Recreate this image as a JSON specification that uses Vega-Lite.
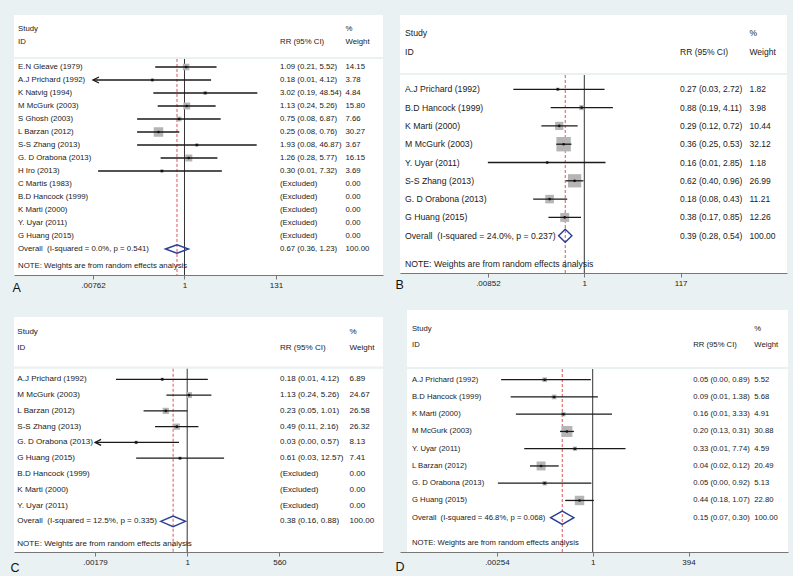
{
"$schema": "https://vega.github.io/schema/vega-lite/v6.json",
"background": "#e9f1f3",
"padding": {"left": 10, "top": 15, "right": 5, "bottom": 2},
"columns": 2,
"spacing": {"row": 35, "column": 17},
"bounds": "flush",
"resolve": {"scale": {"size": "independent"}},
"config": {"view": {"stroke": null, "fill": null}, "font": "Liberation Sans",
  "axis": {"grid": false, "domainColor": "#777777", "tickColor": "#777777", "tickSize": 4, "labelFontSize": 8, "labelColor": "#222222", "labelPadding": 2, "labelFlush": false, "labelOverlap": false, "titleAnchor": "start", "titleAlign": "left", "titleBaseline": "middle", "titleFontSize": 12.5, "titleFontWeight": "normal", "titleColor": "#111111"}},
"datasets": {
"A": [
{"row":-2.92,"kind":"header","study":"Study","wt":"%"},
{"row":-1.9,"kind":"header","study":"ID","ci":"RR (95% CI)","wt":"Weight"},
{"row":0,"kind":"study","study":"E.N Gleave (1979)","est":1.09,"lo":0.21,"hi":5.52,"w":14.15,"ci":"1.09 (0.21, 5.52)","wt":"14.15"},
{"row":1,"kind":"study","study":"A.J Prichard (1992)","est":0.18,"lo":0.00762,"hi":4.12,"w":3.78,"ci":"0.18 (0.01, 4.12)","wt":"3.78","arrow":true},
{"row":2,"kind":"study","study":"K Natvig (1994)","est":3.02,"lo":0.19,"hi":48.54,"w":4.84,"ci":"3.02 (0.19, 48.54)","wt":"4.84"},
{"row":3,"kind":"study","study":"M McGurk (2003)","est":1.13,"lo":0.24,"hi":5.26,"w":15.8,"ci":"1.13 (0.24, 5.26)","wt":"15.80"},
{"row":4,"kind":"study","study":"S Ghosh (2003)","est":0.75,"lo":0.08,"hi":6.87,"w":7.66,"ci":"0.75 (0.08, 6.87)","wt":"7.66"},
{"row":5,"kind":"study","study":"L Barzan (2012)","est":0.25,"lo":0.08,"hi":0.76,"w":30.27,"ci":"0.25 (0.08, 0.76)","wt":"30.27"},
{"row":6,"kind":"study","study":"S-S Zhang (2013)","est":1.93,"lo":0.08,"hi":46.87,"w":3.67,"ci":"1.93 (0.08, 46.87)","wt":"3.67"},
{"row":7,"kind":"study","study":"G. D Orabona (2013)","est":1.26,"lo":0.28,"hi":5.77,"w":16.15,"ci":"1.26 (0.28, 5.77)","wt":"16.15"},
{"row":8,"kind":"study","study":"H Iro (2013)","est":0.3,"lo":0.01,"hi":7.32,"w":3.69,"ci":"0.30 (0.01, 7.32)","wt":"3.69"},
{"row":9,"kind":"excluded","study":"C Martis (1983)","ci":"(Excluded)","wt":"0.00"},
{"row":10,"kind":"excluded","study":"B.D Hancock (1999)","ci":"(Excluded)","wt":"0.00"},
{"row":11,"kind":"excluded","study":"K Marti (2000)","ci":"(Excluded)","wt":"0.00"},
{"row":12,"kind":"excluded","study":"Y. Uyar (2011)","ci":"(Excluded)","wt":"0.00"},
{"row":13,"kind":"excluded","study":"G Huang (2015)","ci":"(Excluded)","wt":"0.00"},
{"row":14,"kind":"overall","study":"Overall \u00a0(I-squared = 0.0%, p = 0.541)","est":0.67,"lo":0.36,"hi":1.23,"ci":"0.67 (0.36, 1.23)","wt":"100.00"},
{"row":15.3,"kind":"note","study":"NOTE: Weights are from random effects analysis"}
],
"B": [
{"row":-3.06,"kind":"header","study":"Study","wt":"%"},
{"row":-2.05,"kind":"header","study":"ID","ci":"RR (95% CI)","wt":"Weight"},
{"row":0,"kind":"study","study":"A.J Prichard (1992)","est":0.27,"lo":0.03,"hi":2.72,"w":1.82,"ci":"0.27 (0.03, 2.72)","wt":"1.82"},
{"row":1,"kind":"study","study":"B.D Hancock (1999)","est":0.88,"lo":0.19,"hi":4.11,"w":3.98,"ci":"0.88 (0.19, 4.11)","wt":"3.98"},
{"row":2,"kind":"study","study":"K Marti (2000)","est":0.29,"lo":0.12,"hi":0.72,"w":10.44,"ci":"0.29 (0.12, 0.72)","wt":"10.44"},
{"row":3,"kind":"study","study":"M McGurk (2003)","est":0.36,"lo":0.25,"hi":0.53,"w":32.12,"ci":"0.36 (0.25, 0.53)","wt":"32.12"},
{"row":4,"kind":"study","study":"Y. Uyar (2011)","est":0.16,"lo":0.00852,"hi":2.85,"w":1.18,"ci":"0.16 (0.01, 2.85)","wt":"1.18"},
{"row":5,"kind":"study","study":"S-S Zhang (2013)","est":0.62,"lo":0.4,"hi":0.96,"w":26.99,"ci":"0.62 (0.40, 0.96)","wt":"26.99"},
{"row":6,"kind":"study","study":"G. D Orabona (2013)","est":0.18,"lo":0.08,"hi":0.43,"w":11.21,"ci":"0.18 (0.08, 0.43)","wt":"11.21"},
{"row":7,"kind":"study","study":"G Huang (2015)","est":0.38,"lo":0.17,"hi":0.85,"w":12.26,"ci":"0.38 (0.17, 0.85)","wt":"12.26"},
{"row":8,"kind":"overall","study":"Overall \u00a0(I-squared = 24.0%, p = 0.237)","est":0.39,"lo":0.28,"hi":0.54,"ci":"0.39 (0.28, 0.54)","wt":"100.00"},
{"row":9.55,"kind":"note","study":"NOTE: Weights are from random effects analysis"}
],
"C": [
{"row":-2.98,"kind":"header","study":"Study","wt":"%"},
{"row":-1.98,"kind":"header","study":"ID","ci":"RR (95% CI)","wt":"Weight"},
{"row":0,"kind":"study","study":"A.J Prichard (1992)","est":0.18,"lo":0.0075,"hi":4.12,"w":6.89,"ci":"0.18 (0.01, 4.12)","wt":"6.89"},
{"row":1,"kind":"study","study":"M McGurk (2003)","est":1.13,"lo":0.24,"hi":5.26,"w":24.67,"ci":"1.13 (0.24, 5.26)","wt":"24.67"},
{"row":2,"kind":"study","study":"L Barzan (2012)","est":0.23,"lo":0.05,"hi":1.01,"w":26.58,"ci":"0.23 (0.05, 1.01)","wt":"26.58"},
{"row":3,"kind":"study","study":"S-S Zhang (2013)","est":0.49,"lo":0.11,"hi":2.16,"w":26.32,"ci":"0.49 (0.11, 2.16)","wt":"26.32"},
{"row":4,"kind":"study","study":"G. D Orabona (2013)","est":0.03,"lo":0.00179,"hi":0.57,"w":8.13,"ci":"0.03 (0.00, 0.57)","wt":"8.13","arrow":true},
{"row":5,"kind":"study","study":"G Huang (2015)","est":0.61,"lo":0.03,"hi":12.57,"w":7.41,"ci":"0.61 (0.03, 12.57)","wt":"7.41"},
{"row":6,"kind":"excluded","study":"B.D Hancock (1999)","ci":"(Excluded)","wt":"0.00"},
{"row":7,"kind":"excluded","study":"K Marti (2000)","ci":"(Excluded)","wt":"0.00"},
{"row":8,"kind":"excluded","study":"Y. Uyar (2011)","ci":"(Excluded)","wt":"0.00"},
{"row":9,"kind":"overall","study":"Overall \u00a0(I-squared = 12.5%, p = 0.335)","est":0.38,"lo":0.16,"hi":0.88,"ci":"0.38 (0.16, 0.88)","wt":"100.00"},
{"row":10.46,"kind":"note","study":"NOTE: Weights are from random effects analysis"}
],
"D": [
{"row":-2.96,"kind":"header","study":"Study","wt":"%"},
{"row":-1.99,"kind":"header","study":"ID","ci":"RR (95% CI)","wt":"Weight"},
{"row":0,"kind":"study","study":"A.J Prichard (1992)","est":0.05,"lo":0.0033,"hi":0.89,"w":5.52,"ci":"0.05 (0.00, 0.89)","wt":"5.52"},
{"row":1,"kind":"study","study":"B.D Hancock (1999)","est":0.09,"lo":0.006,"hi":1.38,"w":5.68,"ci":"0.09 (0.01, 1.38)","wt":"5.68"},
{"row":2,"kind":"study","study":"K Marti (2000)","est":0.16,"lo":0.0083,"hi":3.33,"w":4.91,"ci":"0.16 (0.01, 3.33)","wt":"4.91"},
{"row":3,"kind":"study","study":"M McGurk (2003)","est":0.2,"lo":0.13,"hi":0.31,"w":30.88,"ci":"0.20 (0.13, 0.31)","wt":"30.88"},
{"row":4,"kind":"study","study":"Y. Uyar (2011)","est":0.33,"lo":0.014,"hi":7.74,"w":4.59,"ci":"0.33 (0.01, 7.74)","wt":"4.59"},
{"row":5,"kind":"study","study":"L Barzan (2012)","est":0.04,"lo":0.02,"hi":0.12,"w":20.49,"ci":"0.04 (0.02, 0.12)","wt":"20.49"},
{"row":6,"kind":"study","study":"G. D Orabona (2013)","est":0.05,"lo":0.0027,"hi":0.92,"w":5.13,"ci":"0.05 (0.00, 0.92)","wt":"5.13"},
{"row":7,"kind":"study","study":"G Huang (2015)","est":0.44,"lo":0.18,"hi":1.07,"w":22.8,"ci":"0.44 (0.18, 1.07)","wt":"22.80"},
{"row":8,"kind":"overall","study":"Overall \u00a0(I-squared = 46.8%, p = 0.068)","est":0.15,"lo":0.07,"hi":0.3,"ci":"0.15 (0.07, 0.30)","wt":"100.00"},
{"row":9.49,"kind":"note","study":"NOTE: Weights are from random effects analysis"}
]
},
"concat": [
{
"width": 369, "height": 260,
"data": {"name": "A"},
"layer": [
{"data":{"values":[{}]},"mark":{"type":"rect","fill":"#ffffff"},"encoding":{"x":{"datum":0.00011303,"type":"quantitative","scale":{"type":"log","domain":[0.00011303,39355],"nice":false}},"x2":{"datum":39355},"y":{"datum":-4,"type":"quantitative","scale":{"domain":[-4,16],"reverse":true,"nice":false,"zero":false},"axis":null},"y2":{"datum":-0.77}}},
{"data":{"values":[{}]},"mark":{"type":"rect","fill":"#ffffff"},"encoding":{"x":{"datum":0.00011303,"type":"quantitative","scale":{"type":"log","domain":[0.00011303,39355],"nice":false}},"x2":{"datum":39355},"y":{"datum":-0.62,"type":"quantitative","scale":{"domain":[-4,16],"reverse":true,"nice":false,"zero":false},"axis":null},"y2":{"datum":16}}},
{"data":{"values":[{}]},"mark":{"type":"rule","color":"#333333","strokeWidth":1},"encoding":{"x":{"datum":1,"type":"quantitative","scale":{"type":"log","domain":[0.00011303,39355],"nice":false},"axis":{"values":[0.00762,1,131],"labelExpr":"datum.value < 0.5 ? '.00762' : (datum.value > 2 ? '131' : '1')","title":"A","titleX":-2,"titleY":12}},"y":{"datum":-0.62,"type":"quantitative","scale":{"domain":[-4,16],"reverse":true,"nice":false,"zero":false},"axis":null},"y2":{"datum":16}}},
{"transform":[{"filter":"datum.kind == 'overall'"}],"mark":{"type":"rule","color":"#dd5555","strokeWidth":1,"strokeDash":[3,2]},"encoding":{"x":{"field":"est","type":"quantitative","scale":{"type":"log","domain":[0.00011303,39355],"nice":false}},"y":{"datum":-0.62,"type":"quantitative","scale":{"domain":[-4,16],"reverse":true,"nice":false,"zero":false},"axis":null},"y2":{"datum":16}}},
{"transform":[{"filter":"datum.kind == 'study'"}],"mark":{"type":"point","shape":"square","filled":true,"color":"#b5b5b5","opacity":1},"encoding":{"x":{"field":"est","type":"quantitative","scale":{"type":"log","domain":[0.00011303,39355],"nice":false}},"y":{"field":"row","type":"quantitative","scale":{"domain":[-4,16],"reverse":true,"nice":false,"zero":false},"axis":null},"size":{"field":"w","type":"quantitative","scale":{"type":"linear","domain":[0,100],"range":[0,300]},"legend":null}}},
{"transform":[{"filter":"datum.kind == 'study'"}],"mark":{"type":"rule","color":"#1a1a1a","strokeWidth":1.3},"encoding":{"x":{"field":"lo","type":"quantitative","scale":{"type":"log","domain":[0.00011303,39355],"nice":false}},"x2":{"field":"hi"},"y":{"field":"row","type":"quantitative","scale":{"domain":[-4,16],"reverse":true,"nice":false,"zero":false},"axis":null}}},
{"transform":[{"filter":"datum.kind == 'study'"}],"mark":{"type":"point","shape":"circle","filled":true,"color":"#111111","size":7,"opacity":1},"encoding":{"x":{"field":"est","type":"quantitative","scale":{"type":"log","domain":[0.00011303,39355],"nice":false}},"y":{"field":"row","type":"quantitative","scale":{"domain":[-4,16],"reverse":true,"nice":false,"zero":false},"axis":null}}},
{"transform":[{"filter":"datum.arrow == true"}],"mark":{"type":"point","shape":"M3,-1.5L0,0L3,1.5","filled":false,"color":"#1a1a1a","strokeWidth":1.3,"size":16,"opacity":1},"encoding":{"x":{"field":"lo","type":"quantitative","scale":{"type":"log","domain":[0.00011303,39355],"nice":false}},"y":{"field":"row","type":"quantitative","scale":{"domain":[-4,16],"reverse":true,"nice":false,"zero":false},"axis":null}}},
{"transform":[{"filter":"datum.kind == 'overall'"}],"mark":{"type":"point","shape":"M-1,0L0,-0.36L1,0L0,0.36Z","filled":false,"color":"#2b3f94","strokeWidth":1.4,"size":531,"opacity":1},"encoding":{"x":{"field":"est","type":"quantitative","scale":{"type":"log","domain":[0.00011303,39355],"nice":false}},"y":{"field":"row","type":"quantitative","scale":{"domain":[-4,16],"reverse":true,"nice":false,"zero":false},"axis":null}}},
{"mark":{"type":"text","align":"left","baseline":"middle","fontSize":7.8,"color":"#1a1a1a"},"encoding":{"x":{"datum":0.00014,"type":"quantitative","scale":{"type":"log","domain":[0.00011303,39355],"nice":false}},"y":{"field":"row","type":"quantitative","scale":{"domain":[-4,16],"reverse":true,"nice":false,"zero":false},"axis":null},"text":{"field":"study"}}},
{"transform":[{"filter":"isValid(datum.ci)"}],"mark":{"type":"text","align":"left","baseline":"middle","fontSize":7.8,"color":"#1a1a1a"},"encoding":{"x":{"datum":162.4,"type":"quantitative","scale":{"type":"log","domain":[0.00011303,39355],"nice":false}},"y":{"field":"row","type":"quantitative","scale":{"domain":[-4,16],"reverse":true,"nice":false,"zero":false},"axis":null},"text":{"field":"ci"}}},
{"transform":[{"filter":"isValid(datum.wt)"}],"mark":{"type":"text","align":"left","baseline":"middle","fontSize":7.8,"color":"#1a1a1a"},"encoding":{"x":{"datum":5333,"type":"quantitative","scale":{"type":"log","domain":[0.00011303,39355],"nice":false}},"y":{"field":"row","type":"quantitative","scale":{"domain":[-4,16],"reverse":true,"nice":false,"zero":false},"axis":null},"text":{"field":"wt"}}}
]
},
{
"width": 387, "height": 258,
"data": {"name": "B"},
"layer": [
{"data":{"values":[{}]},"mark":{"type":"rect","fill":"#ffffff"},"encoding":{"x":{"datum":0.0001109,"type":"quantitative","scale":{"type":"log","domain":[0.0001109,22376],"nice":false}},"x2":{"datum":22376},"y":{"datum":-4.06,"type":"quantitative","scale":{"domain":[-4.06,10.038],"reverse":true,"nice":false,"zero":false},"axis":null},"y2":{"datum":-0.89}}},
{"data":{"values":[{}]},"mark":{"type":"rect","fill":"#ffffff"},"encoding":{"x":{"datum":0.0001109,"type":"quantitative","scale":{"type":"log","domain":[0.0001109,22376],"nice":false}},"x2":{"datum":22376},"y":{"datum":-0.78,"type":"quantitative","scale":{"domain":[-4.06,10.038],"reverse":true,"nice":false,"zero":false},"axis":null},"y2":{"datum":10.038}}},
{"data":{"values":[{}]},"mark":{"type":"rule","color":"#333333","strokeWidth":1},"encoding":{"x":{"datum":1,"type":"quantitative","scale":{"type":"log","domain":[0.0001109,22376],"nice":false},"axis":{"values":[0.00852,1,117],"labelExpr":"datum.value < 0.5 ? '.00852' : (datum.value > 2 ? '117' : '1')","title":"B","titleX":-5,"titleY":11}},"y":{"datum":-0.78,"type":"quantitative","scale":{"domain":[-4.06,10.038],"reverse":true,"nice":false,"zero":false},"axis":null},"y2":{"datum":10.038}}},
{"transform":[{"filter":"datum.kind == 'overall'"}],"mark":{"type":"rule","color":"#dd5555","strokeWidth":1,"strokeDash":[3,2]},"encoding":{"x":{"field":"est","type":"quantitative","scale":{"type":"log","domain":[0.0001109,22376],"nice":false}},"y":{"datum":-0.78,"type":"quantitative","scale":{"domain":[-4.06,10.038],"reverse":true,"nice":false,"zero":false},"axis":null},"y2":{"datum":10.038}}},
{"transform":[{"filter":"datum.kind == 'study'"}],"mark":{"type":"point","shape":"square","filled":true,"color":"#b5b5b5","opacity":1},"encoding":{"x":{"field":"est","type":"quantitative","scale":{"type":"log","domain":[0.0001109,22376],"nice":false}},"y":{"field":"row","type":"quantitative","scale":{"domain":[-4.06,10.038],"reverse":true,"nice":false,"zero":false},"axis":null},"size":{"field":"w","type":"quantitative","scale":{"type":"linear","domain":[0,100],"range":[0,650]},"legend":null}}},
{"transform":[{"filter":"datum.kind == 'study'"}],"mark":{"type":"rule","color":"#1a1a1a","strokeWidth":1.3},"encoding":{"x":{"field":"lo","type":"quantitative","scale":{"type":"log","domain":[0.0001109,22376],"nice":false}},"x2":{"field":"hi"},"y":{"field":"row","type":"quantitative","scale":{"domain":[-4.06,10.038],"reverse":true,"nice":false,"zero":false},"axis":null}}},
{"transform":[{"filter":"datum.kind == 'study'"}],"mark":{"type":"point","shape":"circle","filled":true,"color":"#111111","size":7,"opacity":1},"encoding":{"x":{"field":"est","type":"quantitative","scale":{"type":"log","domain":[0.0001109,22376],"nice":false}},"y":{"field":"row","type":"quantitative","scale":{"domain":[-4.06,10.038],"reverse":true,"nice":false,"zero":false},"axis":null}}},
{"transform":[{"filter":"datum.kind == 'overall'"}],"mark":{"type":"point","shape":"M-1,0L0,-0.98L1,0L0,0.98Z","filled":false,"color":"#2b3f94","strokeWidth":1.4,"size":177,"opacity":1},"encoding":{"x":{"field":"est","type":"quantitative","scale":{"type":"log","domain":[0.0001109,22376],"nice":false}},"y":{"field":"row","type":"quantitative","scale":{"domain":[-4.06,10.038],"reverse":true,"nice":false,"zero":false},"axis":null}}},
{"mark":{"type":"text","align":"left","baseline":"middle","fontSize":8.7,"color":"#1a1a1a"},"encoding":{"x":{"datum":0.0001419,"type":"quantitative","scale":{"type":"log","domain":[0.0001109,22376],"nice":false}},"y":{"field":"row","type":"quantitative","scale":{"domain":[-4.06,10.038],"reverse":true,"nice":false,"zero":false},"axis":null},"text":{"field":"study"}}},
{"transform":[{"filter":"isValid(datum.ci)"}],"mark":{"type":"text","align":"left","baseline":"middle","fontSize":8.5,"color":"#1a1a1a"},"encoding":{"x":{"datum":113.1,"type":"quantitative","scale":{"type":"log","domain":[0.0001109,22376],"nice":false}},"y":{"field":"row","type":"quantitative","scale":{"domain":[-4.06,10.038],"reverse":true,"nice":false,"zero":false},"axis":null},"text":{"field":"ci"}}},
{"transform":[{"filter":"isValid(datum.wt)"}],"mark":{"type":"text","align":"left","baseline":"middle","fontSize":8.5,"color":"#1a1a1a"},"encoding":{"x":{"datum":3508,"type":"quantitative","scale":{"type":"log","domain":[0.0001109,22376],"nice":false}},"y":{"field":"row","type":"quantitative","scale":{"domain":[-4.06,10.038],"reverse":true,"nice":false,"zero":false},"axis":null},"text":{"field":"wt"}}}
]
},
{
"width": 369, "height": 242,
"data": {"name": "C"},
"layer": [
{"data":{"values":[{}]},"mark":{"type":"rect","fill":"#ffffff"},"encoding":{"x":{"datum":0.000006831,"type":"quantitative","scale":{"type":"log","domain":[0.000006831,690950],"nice":false}},"x2":{"datum":690950},"y":{"datum":-3.95,"type":"quantitative","scale":{"domain":[-4.392,10.944],"reverse":true,"nice":false,"zero":false},"axis":null},"y2":{"datum":-0.81}}},
{"data":{"values":[{}]},"mark":{"type":"rect","fill":"#ffffff"},"encoding":{"x":{"datum":0.000006831,"type":"quantitative","scale":{"type":"log","domain":[0.000006831,690950],"nice":false}},"x2":{"datum":690950},"y":{"datum":-0.67,"type":"quantitative","scale":{"domain":[-4.392,10.944],"reverse":true,"nice":false,"zero":false},"axis":null},"y2":{"datum":10.944}}},
{"data":{"values":[{}]},"mark":{"type":"rule","color":"#333333","strokeWidth":1},"encoding":{"x":{"datum":1,"type":"quantitative","scale":{"type":"log","domain":[0.000006831,690950],"nice":false},"axis":{"values":[0.00179,1,560],"labelExpr":"datum.value < 0.5 ? '.00179' : (datum.value > 2 ? '560' : '1')","title":"C","titleX":-4,"titleY":15}},"y":{"datum":-0.67,"type":"quantitative","scale":{"domain":[-4.392,10.944],"reverse":true,"nice":false,"zero":false},"axis":null},"y2":{"datum":10.944}}},
{"transform":[{"filter":"datum.kind == 'overall'"}],"mark":{"type":"rule","color":"#dd5555","strokeWidth":1,"strokeDash":[3,2]},"encoding":{"x":{"field":"est","type":"quantitative","scale":{"type":"log","domain":[0.000006831,690950],"nice":false}},"y":{"datum":-0.67,"type":"quantitative","scale":{"domain":[-4.392,10.944],"reverse":true,"nice":false,"zero":false},"axis":null},"y2":{"datum":10.944}}},
{"transform":[{"filter":"datum.kind == 'study'"}],"mark":{"type":"point","shape":"square","filled":true,"color":"#b5b5b5","opacity":1},"encoding":{"x":{"field":"est","type":"quantitative","scale":{"type":"log","domain":[0.000006831,690950],"nice":false}},"y":{"field":"row","type":"quantitative","scale":{"domain":[-4.392,10.944],"reverse":true,"nice":false,"zero":false},"axis":null},"size":{"field":"w","type":"quantitative","scale":{"type":"linear","domain":[0,100],"range":[0,145]},"legend":null}}},
{"transform":[{"filter":"datum.kind == 'study'"}],"mark":{"type":"rule","color":"#1a1a1a","strokeWidth":1.3},"encoding":{"x":{"field":"lo","type":"quantitative","scale":{"type":"log","domain":[0.000006831,690950],"nice":false}},"x2":{"field":"hi"},"y":{"field":"row","type":"quantitative","scale":{"domain":[-4.392,10.944],"reverse":true,"nice":false,"zero":false},"axis":null}}},
{"transform":[{"filter":"datum.kind == 'study'"}],"mark":{"type":"point","shape":"circle","filled":true,"color":"#111111","size":7,"opacity":1},"encoding":{"x":{"field":"est","type":"quantitative","scale":{"type":"log","domain":[0.000006831,690950],"nice":false}},"y":{"field":"row","type":"quantitative","scale":{"domain":[-4.392,10.944],"reverse":true,"nice":false,"zero":false},"axis":null}}},
{"transform":[{"filter":"datum.arrow == true"}],"mark":{"type":"point","shape":"M3,-1.5L0,0L3,1.5","filled":false,"color":"#1a1a1a","strokeWidth":1.3,"size":16,"opacity":1},"encoding":{"x":{"field":"lo","type":"quantitative","scale":{"type":"log","domain":[0.000006831,690950],"nice":false}},"y":{"field":"row","type":"quantitative","scale":{"domain":[-4.392,10.944],"reverse":true,"nice":false,"zero":false},"axis":null}}},
{"transform":[{"filter":"datum.kind == 'overall'"}],"mark":{"type":"point","shape":"M-1,0L0,-0.43L1,0L0,0.43Z","filled":false,"color":"#2b3f94","strokeWidth":1.4,"size":617,"opacity":1},"encoding":{"x":{"field":"est","type":"quantitative","scale":{"type":"log","domain":[0.000006831,690950],"nice":false}},"y":{"field":"row","type":"quantitative","scale":{"domain":[-4.392,10.944],"reverse":true,"nice":false,"zero":false},"axis":null}}},
{"mark":{"type":"text","align":"left","baseline":"middle","fontSize":8.05,"color":"#1a1a1a"},"encoding":{"x":{"datum":0.00000857,"type":"quantitative","scale":{"type":"log","domain":[0.000006831,690950],"nice":false}},"y":{"field":"row","type":"quantitative","scale":{"domain":[-4.392,10.944],"reverse":true,"nice":false,"zero":false},"axis":null},"text":{"field":"study"}}},
{"transform":[{"filter":"isValid(datum.ci)"}],"mark":{"type":"text","align":"left","baseline":"middle","fontSize":8.05,"color":"#1a1a1a"},"encoding":{"x":{"datum":585.9,"type":"quantitative","scale":{"type":"log","domain":[0.000006831,690950],"nice":false}},"y":{"field":"row","type":"quantitative","scale":{"domain":[-4.392,10.944],"reverse":true,"nice":false,"zero":false},"axis":null},"text":{"field":"ci"}}},
{"transform":[{"filter":"isValid(datum.wt)"}],"mark":{"type":"text","align":"left","baseline":"middle","fontSize":8.05,"color":"#1a1a1a"},"encoding":{"x":{"datum":69260,"type":"quantitative","scale":{"type":"log","domain":[0.000006831,690950],"nice":false}},"y":{"field":"row","type":"quantitative","scale":{"domain":[-4.392,10.944],"reverse":true,"nice":false,"zero":false},"axis":null},"text":{"field":"wt"}}}
]
},
{
"width": 388, "height": 242,
"data": {"name": "D"},
"layer": [
{"data":{"values":[{}]},"mark":{"type":"rect","fill":"#ffffff"},"encoding":{"x":{"datum":0.000009337,"type":"quantitative","scale":{"type":"log","domain":[0.000006034,194940],"nice":false}},"x2":{"datum":194940},"y":{"datum":-4.041,"type":"quantitative","scale":{"domain":[-4.041,9.988],"reverse":true,"nice":false,"zero":false},"axis":null},"y2":{"datum":-0.74}}},
{"data":{"values":[{}]},"mark":{"type":"rect","fill":"#ffffff"},"encoding":{"x":{"datum":0.000009337,"type":"quantitative","scale":{"type":"log","domain":[0.000006034,194940],"nice":false}},"x2":{"datum":194940},"y":{"datum":-0.62,"type":"quantitative","scale":{"domain":[-4.041,9.988],"reverse":true,"nice":false,"zero":false},"axis":null},"y2":{"datum":9.988}}},
{"data":{"values":[{}]},"mark":{"type":"rule","color":"#333333","strokeWidth":1},"encoding":{"x":{"datum":1,"type":"quantitative","scale":{"type":"log","domain":[0.000006034,194940],"nice":false},"axis":{"values":[0.00254,1,394],"labelExpr":"datum.value < 0.5 ? '.00254' : (datum.value > 2 ? '394' : '1')","title":"D","titleX":-5,"titleY":14}},"y":{"datum":-0.62,"type":"quantitative","scale":{"domain":[-4.041,9.988],"reverse":true,"nice":false,"zero":false},"axis":null},"y2":{"datum":9.988}}},
{"transform":[{"filter":"datum.kind == 'overall'"}],"mark":{"type":"rule","color":"#dd5555","strokeWidth":1,"strokeDash":[3,2]},"encoding":{"x":{"field":"est","type":"quantitative","scale":{"type":"log","domain":[0.000006034,194940],"nice":false}},"y":{"datum":-0.62,"type":"quantitative","scale":{"domain":[-4.041,9.988],"reverse":true,"nice":false,"zero":false},"axis":null},"y2":{"datum":9.988}}},
{"transform":[{"filter":"datum.kind == 'study'"}],"mark":{"type":"point","shape":"square","filled":true,"color":"#b5b5b5","opacity":1},"encoding":{"x":{"field":"est","type":"quantitative","scale":{"type":"log","domain":[0.000006034,194940],"nice":false}},"y":{"field":"row","type":"quantitative","scale":{"domain":[-4.041,9.988],"reverse":true,"nice":false,"zero":false},"axis":null},"size":{"field":"w","type":"quantitative","scale":{"type":"linear","domain":[0,100],"range":[0,390]},"legend":null}}},
{"transform":[{"filter":"datum.kind == 'study'"}],"mark":{"type":"rule","color":"#1a1a1a","strokeWidth":1.3},"encoding":{"x":{"field":"lo","type":"quantitative","scale":{"type":"log","domain":[0.000006034,194940],"nice":false}},"x2":{"field":"hi"},"y":{"field":"row","type":"quantitative","scale":{"domain":[-4.041,9.988],"reverse":true,"nice":false,"zero":false},"axis":null}}},
{"transform":[{"filter":"datum.kind == 'study'"}],"mark":{"type":"point","shape":"circle","filled":true,"color":"#111111","size":7,"opacity":1},"encoding":{"x":{"field":"est","type":"quantitative","scale":{"type":"log","domain":[0.000006034,194940],"nice":false}},"y":{"field":"row","type":"quantitative","scale":{"domain":[-4.041,9.988],"reverse":true,"nice":false,"zero":false},"axis":null}}},
{"transform":[{"filter":"datum.kind == 'overall'"}],"mark":{"type":"point","shape":"M-1,0L0,-0.57L1,0L0,0.57Z","filled":false,"color":"#2b3f94","strokeWidth":1.4,"size":544,"opacity":1},"encoding":{"x":{"field":"est","type":"quantitative","scale":{"type":"log","domain":[0.000006034,194940],"nice":false}},"y":{"field":"row","type":"quantitative","scale":{"domain":[-4.041,9.988],"reverse":true,"nice":false,"zero":false},"axis":null}}},
{"mark":{"type":"text","align":"left","baseline":"middle","fontSize":7.7,"color":"#1a1a1a"},"encoding":{"x":{"datum":0.00001275,"type":"quantitative","scale":{"type":"log","domain":[0.000006034,194940],"nice":false}},"y":{"field":"row","type":"quantitative","scale":{"domain":[-4.041,9.988],"reverse":true,"nice":false,"zero":false},"axis":null},"text":{"field":"study"}}},
{"transform":[{"filter":"isValid(datum.ci)"}],"mark":{"type":"text","align":"left","baseline":"middle","fontSize":7.7,"color":"#1a1a1a"},"encoding":{"x":{"datum":530.7,"type":"quantitative","scale":{"type":"log","domain":[0.000006034,194940],"nice":false}},"y":{"field":"row","type":"quantitative","scale":{"domain":[-4.041,9.988],"reverse":true,"nice":false,"zero":false},"axis":null},"text":{"field":"ci"}}},
{"transform":[{"filter":"isValid(datum.wt)"}],"mark":{"type":"text","align":"left","baseline":"middle","fontSize":7.7,"color":"#1a1a1a"},"encoding":{"x":{"datum":23820,"type":"quantitative","scale":{"type":"log","domain":[0.000006034,194940],"nice":false}},"y":{"field":"row","type":"quantitative","scale":{"domain":[-4.041,9.988],"reverse":true,"nice":false,"zero":false},"axis":null},"text":{"field":"wt"}}}
]
}
]
}
